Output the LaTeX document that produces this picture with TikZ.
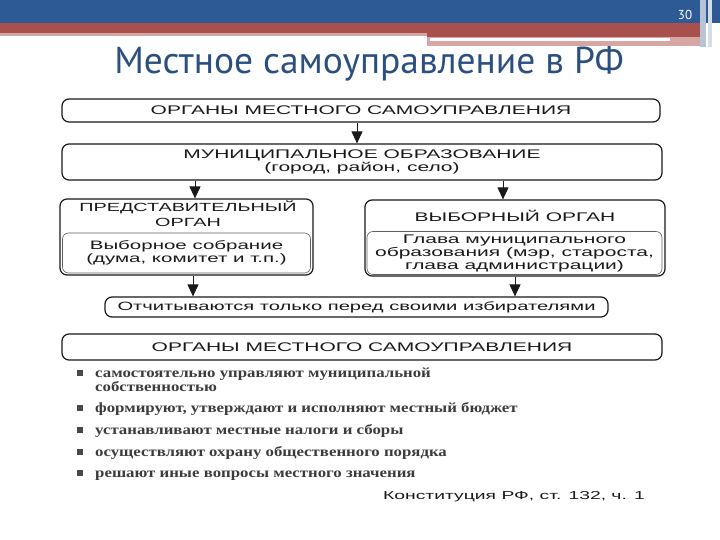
\documentclass[tikz,border=0pt]{standalone}
\usepackage{fontspec}
\usetikzlibrary{arrows.meta,calc}
\newfontfamily\dsans[FakeStretch=1.68]{Liberation Sans}
\newfontfamily\dserif[FakeStretch=1.2]{Liberation Serif}
\newfontfamily\titlefont{PT Sans}
\definecolor{hdrblue}{RGB}{45,89,149}
\definecolor{hdrred}{RGB}{168,80,78}
\definecolor{hdrpink}{RGB}{214,166,164}
\definecolor{hdrgrey}{RGB}{184,196,214}
\definecolor{titleblue}{RGB}{43,80,128}
\definecolor{ink}{RGB}{25,25,25}
\tikzset{
  box/.style={draw=ink, line width=1.2pt, rounded corners=7pt, inner sep=0pt,
    font=\dsans\fontsize{12.5}{13}\selectfont, text=ink, align=center},
  innerbox/.style={draw=ink!70, line width=0.6pt, rounded corners=6pt, inner sep=0pt,
    font=\dsans\fontsize{12.2}{13}\selectfont, text=ink, align=center},
  lbl/.style={inner sep=0pt, font=\dsans\fontsize{12.5}{14.5}\selectfont, text=ink, align=center},
  arr/.style={draw=ink, line width=0.9pt, -{Triangle[width=11pt,length=12pt]}},
  item/.style={inner sep=0pt, anchor=base west, font=\dserif\bfseries\fontsize{14}{14}\selectfont, text=ink!85},
  bul/.style={fill=ink!80, minimum size=6pt, inner sep=0pt}
}
\begin{document}
\begin{tikzpicture}[x=1pt,y=1pt]
\useasboundingbox (0,0) rectangle (720,-540);
% header
\fill[hdrblue] (0,0) rectangle (720,-23);
\fill[hdrred] (0,-23) rectangle (700,-33);
\fill[hdrpink] (0,-33) rectangle (427,-36);
\fill[hdrred] (427,-33) rectangle (700,-37);
\fill[hdrpink] (427,-37) rectangle (700,-46);
\fill[white] (430,-38.5) rectangle (670,-41.5);
\fill[hdrgrey] (700,0) rectangle (706,-47);
\fill[hdrgrey!60] (708,0) rectangle (712,-47);
\node[text=white, font=\titlefont\fontsize{13}{13}\selectfont, inner sep=0pt] (pg) at (685,-15) {30};
\node[text=titleblue, font=\titlefont\fontsize{37.5}{38}\selectfont, inner sep=0pt, anchor=base] (title) at (369,-73.5) {Местное самоуправление в РФ};
% diagram
\node[box, minimum width=598pt, minimum height=23pt] (b1) at (361,-110.5) {ОРГАНЫ МЕСТНОГО САМОУПРАВЛЕНИЯ};
\node[box, minimum width=600pt, minimum height=36pt] (b2) at (362,-162) {МУНИЦИПАЛЬНОЕ ОБРАЗОВАНИЕ\\(город, район, село)};
\node[box, minimum width=253pt, minimum height=76pt] (lb) at (186.5,-237) {};
\node[lbl, font=\dsans\fontsize{11.8}{14.5}\selectfont] (lbt) at (188,-213.5) {ПРЕДСТАВИТЕЛЬНЫЙ\\ОРГАН};
\node[innerbox, minimum width=248pt, minimum height=40pt] (lbi) at (186.5,-253) {Выборное собрание\\(дума, комитет и т.п.)};
\node[box, minimum width=300pt, minimum height=76pt] (rb) at (515,-238) {};
\node[lbl] (rbt) at (515,-216) {ВЫБОРНЫЙ ОРГАН};
\node[innerbox, font=\dsans\fontsize{12.5}{13}\selectfont, minimum width=295pt, minimum height=43pt] (rbi) at (514.5,-253) {Глава муниципального\\образования (мэр, староста,\\глава администрации)};
\node[box, font=\dsans\fontsize{12}{13}\selectfont, minimum width=503pt, minimum height=20pt] (bb) at (356.5,-307) {Отчитываются только перед своими избирателями};
\node[box, minimum width=600pt, minimum height=26pt] (b4) at (362,-347) {ОРГАНЫ МЕСТНОГО САМОУПРАВЛЕНИЯ};
% connector anchors
\coordinate (c1) at ($(b1.south)+(-4,0)$);
\coordinate (c2) at ($(lb.north)+(8.5,0)$);
\coordinate (c3) at ($(rb.north)+(-12,0)$);
\coordinate (c4) at ($(lb.south)+(6.5,0)$);
% connectors
\draw[arr] (c1) -- (c1 |- b2.north);
\draw[arr] (c2 |- b2.south) -- (c2);
\draw[arr] (c3 |- b2.south) -- (c3);
\draw[arr] (c4) -- (c4 |- bb.north);
\draw[arr] (rb.south) -- (rb.south |- bb.north);
% list
\node[bul] (s1) at (80,-373) {};
\node[item] (t1) at (95,-377.5) {самостоятельно управляют муниципальной};
\node[item] (t1b) at (95,-391) {собственностью};
\node[bul] (s2) at (80,-408) {};
\node[item] (t2) at (95,-412.5) {формируют, утверждают и исполняют местный бюджет};
\node[bul] (s3) at (80,-430) {};
\node[item] (t3) at (95,-434.5) {устанавливают местные налоги и сборы};
\node[bul] (s4) at (80,-452) {};
\node[item] (t4) at (95,-456.5) {осуществляют охрану общественного порядка};
\node[bul] (s5) at (80,-473) {};
\node[item] (t5) at (95,-477.5) {решают иные вопросы местного значения};
\node[inner sep=0pt, anchor=base east, font=\dsans\fontsize{11.5}{12}\selectfont, text=ink] (src) at (645,-499) {Конституция РФ, ст. 132, ч. 1};
\end{tikzpicture}
\end{document}
